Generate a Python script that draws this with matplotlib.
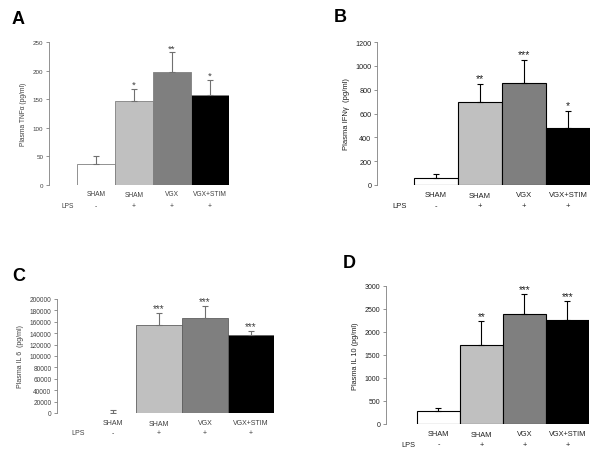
import numpy as np
import matplotlib
matplotlib.use('Agg')
import matplotlib.pyplot as plt

plt.rcParams['font.family'] = ['Liberation Sans', 'DejaVu Sans']

groups = ['SHAM', 'SHAM', 'VGX', 'VGX+STIM']
lps = ['-', '+', '+', '+']
bar_colors = ['white', '#c0c0c0', '#7f7f7f', 'black']

tnf = [37, 147, 198, 157]
tnf_err = [14, 21, 34, 27]
tnf_stars = ['', '*', '**', '*']

ifn = [60, 695, 860, 480]
ifn_err = [35, 155, 190, 140]
ifn_stars = ['', '**', '***', '*']

il6 = [0, 155000, 167000, 136000]
il6_err = [6000, 20000, 21000, 8000]
il6_stars = ['', '***', '***', '***']

il10 = [290, 1720, 2400, 2260]
il10_err = [50, 520, 420, 410]
il10_stars = ['', '**', '***', '***']


def draw_panel(fig, rect, vals, errs, stars, ymax, ystep, ylabel, letter, letter_pos,
               xleft, lps_x, edge, text_color, fs, lab_off, lps_off, star_off):
    ax = fig.add_axes(rect)
    x = np.arange(len(vals))
    ax.bar(x, vals, width=1.0, color=bar_colors, edgecolor=edge,
           linewidth=0.8 if edge == 'black' else 0.6)
    ax.errorbar(x, vals, yerr=[np.zeros(len(errs)), errs], fmt='none',
                ecolor=edge if edge == 'black' else '#707070',
                elinewidth=0.8, capsize=2.5, capthick=0.8)
    for xi, v, e, s in zip(x, vals, errs, stars):
        if s:
            ax.annotate(s, (xi, v + e), xytext=(0, star_off), textcoords='offset points',
                        ha='center', va='bottom', fontsize=fs + 2, color=text_color)
    for i, (xi, g, p) in enumerate(zip(x, groups, lps)):
        # second SHAM label sits a touch lower in the original
        dy = 1 if i == 1 else 0
        ax.annotate(g, (xi, 0), xycoords=('data', 'axes fraction'), xytext=(0, -lab_off - dy),
                    textcoords='offset points', ha='center', va='center',
                    fontsize=fs, color=text_color)
        ax.annotate(p, (xi, 0), xycoords=('data', 'axes fraction'), xytext=(0, -lps_off),
                    textcoords='offset points', ha='center', va='center',
                    fontsize=fs, color=text_color)
    ax.annotate('LPS', (lps_x, 0), xycoords=('data', 'axes fraction'), xytext=(0, -lps_off),
                textcoords='offset points', ha='center', va='center',
                fontsize=fs, color=text_color)

    ax.set_xlim(xleft, 3.5)
    ax.set_ylim(0, ymax)
    ax.set_yticks(np.arange(0, ymax + 1, ystep))
    ax.yaxis.set_major_formatter(matplotlib.ticker.FormatStrFormatter('%d'))
    ax.set_xticks([])
    for sp in ['top', 'right', 'bottom']:
        ax.spines[sp].set_visible(False)
    ax.spines['left'].set_color('#808080')
    ax.spines['left'].set_linewidth(0.6)
    ax.tick_params(axis='y', length=2.5, width=0.6, color='#808080',
                   labelsize=fs - 0.3, labelcolor=text_color, pad=1.5)
    ax.set_ylabel(ylabel, fontsize=fs, color=text_color, labelpad=4)
    fig.text(letter_pos[0], letter_pos[1], letter, fontsize=13, fontweight='bold',
             ha='left', va='center')
    return ax


fig = plt.figure(figsize=(6, 4.64), dpi=100)

draw_panel(fig, [49 / 600, 1 - 186 / 464, 180 / 600, 143 / 464], tnf, tnf_err, tnf_stars,
           250, 50, 'Plasma TNFα (pg/ml)', 'A', (12 / 600, 1 - 19 / 464),
           -1.24, -0.76, '#808080', '#404040', 4.8, 6, 15, 0)
draw_panel(fig, [377 / 600, 1 - 186 / 464, 213 / 600, 143 / 464], ifn, ifn_err, ifn_stars,
           1200, 200, 'Plasma IFNγ  (pg/ml)', 'B', (334 / 600, 1 - 18 / 464),
           -1.34, -0.82, 'black', '#202020', 5.5, 6.5, 15, 0.5)
draw_panel(fig, [57 / 600, 1 - 414 / 464, 217 / 600, 114 / 464], il6, il6_err, il6_stars,
           200000, 20000, 'Plasma IL 6  (pg/ml)', 'C', (12 / 600, 1 - 277 / 464),
           -1.22, -0.76, '#606060', '#404040', 5, 6.5, 14, 0)
draw_panel(fig, [386 / 600, 1 - 425 / 464, 203 / 600, 138 / 464], il10, il10_err, il10_stars,
           3000, 500, 'Plasma IL 10 (pg/ml)', 'D', (343 / 600, 1 - 263 / 464),
           -1.22, -0.71, 'black', '#202020', 5.3, 6.5, 14.5, 0)

fig.savefig('out.png', dpi=100)
